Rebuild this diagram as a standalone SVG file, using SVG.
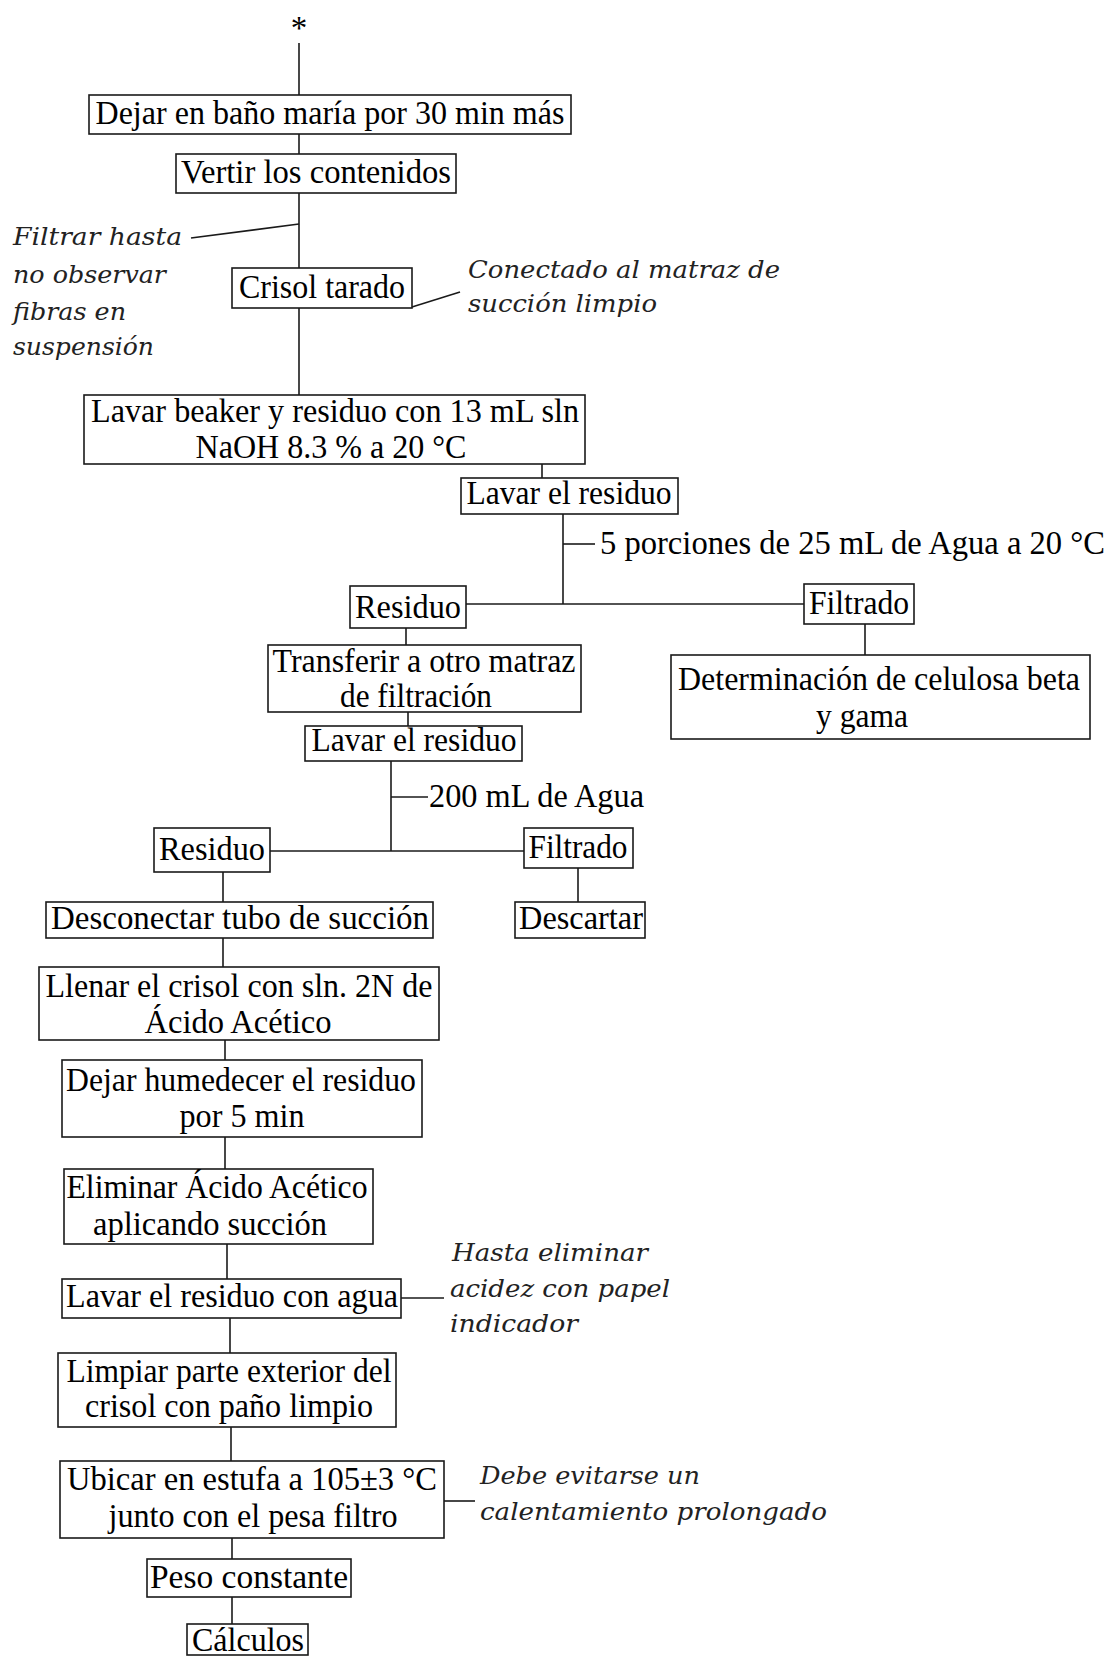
<svg xmlns="http://www.w3.org/2000/svg" width="1110" height="1656" viewBox="0 0 1110 1656">
<style>
rect.b{fill:#fff;stroke:#1a1a1a;stroke-width:1.6}
.c line{stroke:#1a1a1a;stroke-width:1.6}
text.t{font-family:"Liberation Serif","Times New Roman",serif;font-size:33px;fill:#000;text-anchor:middle}
text.l{font-family:"Liberation Serif","Times New Roman",serif;font-size:33px;fill:#000}
text.n{font-family:"DejaVu Serif",serif;font-style:italic;font-size:24px;fill:#222}
</style>
<rect width="1110" height="1656" fill="#fff"/>
<g id="connectors" class="c">
<line x1="299" y1="43" x2="299" y2="95"/>
<line x1="299" y1="134" x2="299" y2="154"/>
<line x1="299" y1="193" x2="299" y2="268"/>
<line x1="191" y1="238" x2="299" y2="224"/>
<line x1="412" y1="307" x2="460" y2="292"/>
<line x1="299" y1="308" x2="299" y2="395"/>
<line x1="542" y1="464" x2="542" y2="478"/>
<line x1="563" y1="514" x2="563" y2="604"/>
<line x1="563" y1="544" x2="595" y2="544"/>
<line x1="466" y1="604" x2="804" y2="604"/>
<line x1="865" y1="624" x2="865" y2="655"/>
<line x1="406" y1="628" x2="406" y2="645"/>
<line x1="408" y1="712" x2="408" y2="726"/>
<line x1="391" y1="761" x2="391" y2="851"/>
<line x1="391" y1="797" x2="428" y2="797"/>
<line x1="270" y1="851" x2="524" y2="851"/>
<line x1="223" y1="872" x2="223" y2="902"/>
<line x1="578" y1="868" x2="578" y2="902"/>
<line x1="223" y1="938" x2="223" y2="967"/>
<line x1="225" y1="1040" x2="225" y2="1060"/>
<line x1="225" y1="1137" x2="225" y2="1169"/>
<line x1="227" y1="1244" x2="227" y2="1279"/>
<line x1="401" y1="1298" x2="444" y2="1298"/>
<line x1="230" y1="1318" x2="230" y2="1353"/>
<line x1="231" y1="1427" x2="231" y2="1461"/>
<line x1="444" y1="1501" x2="475" y2="1501"/>
<line x1="232" y1="1538" x2="232" y2="1559"/>
<line x1="232" y1="1597" x2="232" y2="1624"/>
</g>
<g id="start"><text class="t" x="299" y="39">*</text></g>
<g id="n1"><rect class="b" x="89" y="95" width="482" height="39"/><text class="t" x="330" y="124" textLength="469" lengthAdjust="spacingAndGlyphs">Dejar en baño maría por 30 min más</text></g>
<g id="n2"><rect class="b" x="176" y="154" width="280" height="39"/><text class="t" x="316" y="183" textLength="270" lengthAdjust="spacingAndGlyphs">Vertir los contenidos</text></g>
<g id="note1"><text class="n" x="13" y="245" textLength="169" lengthAdjust="spacingAndGlyphs">Filtrar hasta</text><text class="n" x="13" y="283" textLength="153" lengthAdjust="spacingAndGlyphs">no observar</text><text class="n" x="13" y="320" textLength="113" lengthAdjust="spacingAndGlyphs">fibras en</text><text class="n" x="13" y="355" textLength="141" lengthAdjust="spacingAndGlyphs">suspensión</text></g>
<g id="n3"><rect class="b" x="232" y="268" width="180" height="40"/><text class="t" x="322" y="298" textLength="166" lengthAdjust="spacingAndGlyphs">Crisol tarado</text></g>
<g id="note2"><text class="n" x="468" y="278" textLength="312" lengthAdjust="spacingAndGlyphs">Conectado al matraz de</text><text class="n" x="468" y="312" textLength="189" lengthAdjust="spacingAndGlyphs">succión limpio</text></g>
<g id="n4"><rect class="b" x="84" y="395" width="501" height="69"/><text class="t" x="335" y="422" textLength="488" lengthAdjust="spacingAndGlyphs">Lavar beaker y residuo con 13 mL sln</text><text class="t" x="331" y="458" textLength="271" lengthAdjust="spacingAndGlyphs">NaOH 8.3 % a 20 °C</text></g>
<g id="n5"><rect class="b" x="461" y="478" width="217" height="36"/><text class="t" x="569" y="504" textLength="205" lengthAdjust="spacingAndGlyphs">Lavar el residuo</text></g>
<g id="lbl1"><text class="l" x="600" y="554" textLength="505" lengthAdjust="spacingAndGlyphs">5 porciones de 25 mL de Agua a 20 °C</text></g>
<g id="n6"><rect class="b" x="350" y="586" width="116" height="42"/><text class="t" x="408" y="618" textLength="106" lengthAdjust="spacingAndGlyphs">Residuo</text></g>
<g id="n7"><rect class="b" x="804" y="584" width="110" height="40"/><text class="t" x="859" y="614" textLength="100" lengthAdjust="spacingAndGlyphs">Filtrado</text></g>
<g id="n8"><rect class="b" x="671" y="655" width="419" height="84"/><text class="t" x="879" y="690" textLength="402" lengthAdjust="spacingAndGlyphs">Determinación de celulosa beta</text><text class="t" x="862" y="727" textLength="92" lengthAdjust="spacingAndGlyphs">y gama</text></g>
<g id="n9"><rect class="b" x="268" y="645" width="313" height="67"/><text class="t" x="424" y="672" textLength="303" lengthAdjust="spacingAndGlyphs">Transferir a otro matraz</text><text class="t" x="416" y="707" textLength="152" lengthAdjust="spacingAndGlyphs">de filtración</text></g>
<g id="n10"><rect class="b" x="305" y="726" width="217" height="35"/><text class="t" x="414" y="751" textLength="205" lengthAdjust="spacingAndGlyphs">Lavar el residuo</text></g>
<g id="lbl2"><text class="l" x="429" y="807" textLength="215" lengthAdjust="spacingAndGlyphs">200 mL de Agua</text></g>
<g id="n11"><rect class="b" x="154" y="828" width="116" height="44"/><text class="t" x="212" y="860" textLength="106" lengthAdjust="spacingAndGlyphs">Residuo</text></g>
<g id="n12"><rect class="b" x="524" y="828" width="109" height="40"/><text class="t" x="578" y="858" textLength="99" lengthAdjust="spacingAndGlyphs">Filtrado</text></g>
<g id="n13"><rect class="b" x="46" y="902" width="387" height="36"/><text class="t" x="240" y="929" textLength="378" lengthAdjust="spacingAndGlyphs">Desconectar tubo de succión</text></g>
<g id="n14"><rect class="b" x="515" y="902" width="130" height="36"/><text class="t" x="581" y="929" textLength="124" lengthAdjust="spacingAndGlyphs">Descartar</text></g>
<g id="n15"><rect class="b" x="39" y="967" width="400" height="73"/><text class="t" x="239" y="997" textLength="387" lengthAdjust="spacingAndGlyphs">Llenar el crisol con sln. 2N de</text><text class="t" x="238" y="1033" textLength="187" lengthAdjust="spacingAndGlyphs">Ácido Acético</text></g>
<g id="n16"><rect class="b" x="62" y="1060" width="360" height="77"/><text class="t" x="241" y="1091" textLength="350" lengthAdjust="spacingAndGlyphs">Dejar humedecer el residuo</text><text class="t" x="242" y="1127" textLength="125" lengthAdjust="spacingAndGlyphs">por 5 min</text></g>
<g id="n17"><rect class="b" x="64" y="1169" width="309" height="75"/><text class="t" x="217" y="1198" textLength="301" lengthAdjust="spacingAndGlyphs">Eliminar Ácido Acético</text><text class="t" x="210" y="1235" textLength="234" lengthAdjust="spacingAndGlyphs">aplicando succión</text></g>
<g id="n18"><rect class="b" x="62" y="1279" width="339" height="39"/><text class="t" x="232" y="1307" textLength="332" lengthAdjust="spacingAndGlyphs">Lavar el residuo con agua</text></g>
<g id="note3"><text class="n" x="452" y="1261" textLength="196" lengthAdjust="spacingAndGlyphs">Hasta eliminar</text><text class="n" x="450" y="1297" textLength="220" lengthAdjust="spacingAndGlyphs">acidez con papel</text><text class="n" x="450" y="1332" textLength="128" lengthAdjust="spacingAndGlyphs">indicador</text></g>
<g id="n19"><rect class="b" x="58" y="1353" width="338" height="74"/><text class="t" x="229" y="1382" textLength="325" lengthAdjust="spacingAndGlyphs">Limpiar parte exterior del</text><text class="t" x="229" y="1417" textLength="288" lengthAdjust="spacingAndGlyphs">crisol con paño limpio</text></g>
<g id="n20"><rect class="b" x="60" y="1461" width="384" height="77"/><text class="t" x="252" y="1490" textLength="370" lengthAdjust="spacingAndGlyphs">Ubicar en estufa a 105±3 °C</text><text class="t" x="253" y="1527" textLength="289" lengthAdjust="spacingAndGlyphs">junto con el pesa filtro</text></g>
<g id="note4"><text class="n" x="480" y="1484" textLength="220" lengthAdjust="spacingAndGlyphs">Debe evitarse un</text><text class="n" x="480" y="1520" textLength="347" lengthAdjust="spacingAndGlyphs">calentamiento prolongado</text></g>
<g id="n21"><rect class="b" x="147" y="1559" width="204" height="38"/><text class="t" x="249" y="1588" textLength="198" lengthAdjust="spacingAndGlyphs">Peso constante</text></g>
<g id="n22"><rect class="b" x="187" y="1624" width="121" height="31"/><text class="t" x="248" y="1651" textLength="112" lengthAdjust="spacingAndGlyphs">Cálculos</text></g>
</svg>
